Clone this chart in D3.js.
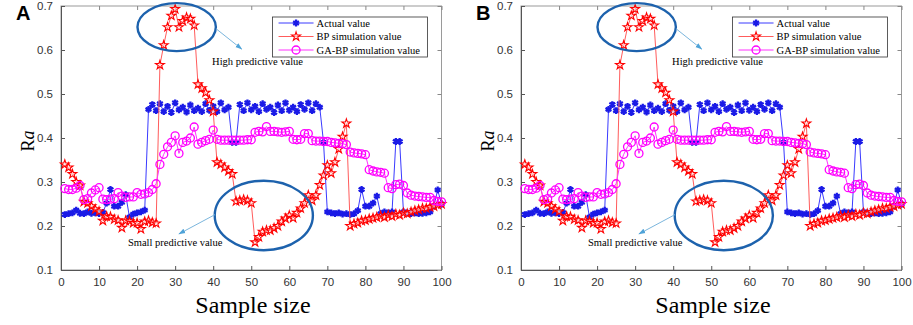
<!DOCTYPE html>
<html>
<head>
<meta charset="utf-8">
<script src="https://cdn.jsdelivr.net/npm/d3@7"></script>
<style>
  body { margin: 0; background: #fff; }
  svg { display: block; }
  .tick text { font-family: "Liberation Sans", Arial, sans-serif; font-size: 11.5px; fill: #333; }
</style>
</head>
<body>
<div id="chart"></div>
<script>
// sample numbers 1..100
var samples = d3.range(1, 101);

var actualValue = [0.226,0.228,0.230,0.236,0.229,0.228,0.232,0.229,0.230,0.228,0.231,0.252,0.283,0.245,0.245,0.254,0.271,0.220,0.227,0.230,0.232,0.236,
  0.465,0.476,0.462,0.478,0.460,0.472,0.458,0.480,0.464,0.470,0.459,0.475,0.462,0.468,0.460,0.478,0.463,0.472,0.460,0.480,0.464,0.470,
  0.390,0.390,
  0.476,0.462,0.480,0.464,0.472,0.460,0.478,0.465,0.470,0.458,0.475,0.462,0.480,0.463,0.470,0.460,0.476,0.465,0.480,0.462,0.478,0.470,
  0.390,
  0.232,0.230,0.228,0.230,0.227,0.228,0.226,0.228,0.235,0.283,0.245,0.245,0.252,0.268,0.228,0.232,0.230,0.232,0.392,0.392,0.232,0.230,0.228,0.230,0.228,0.229,0.230,0.232,0.245,0.282,0.250];

var bpValue = [0.340,0.333,0.318,0.300,0.292,0.255,0.252,0.245,0.238,0.233,0.212,0.222,0.221,0.215,0.213,0.196,0.212,0.211,0.207,0.207,0.193,0.210,0.212,0.208,0.206,
  0.566,0.611,0.652,0.678,0.693,0.652,0.666,0.674,0.671,0.656,
  0.522,0.513,0.503,0.486,0.460,
  0.345,0.340,0.333,0.325,0.318,
  0.256,0.258,0.260,0.258,0.252,
  0.163,0.175,0.187,0.190,0.190,0.195,0.200,0.210,0.217,0.224,0.218,0.230,0.240,0.252,0.270,0.258,0.270,0.293,0.315,0.338,0.320,0.345,0.375,0.403,0.433,
  0.200,0.205,0.207,0.212,0.213,0.216,0.218,0.220,0.223,0.220,0.225,0.222,0.227,0.225,0.230,0.228,0.232,0.235,0.237,0.240,0.240,0.243,0.245,0.248,0.250];

var gabpValue = [0.285,0.283,0.283,0.286,0.292,0.260,0.262,0.275,0.282,0.287,0.261,0.260,0.261,0.262,0.276,0.268,0.265,0.266,0.266,0.276,0.272,0.273,0.276,0.283,0.296,
  0.340,0.363,0.380,0.390,0.405,0.365,0.390,0.393,0.400,0.425,0.386,0.390,0.394,0.397,0.418,
  0.397,0.395,0.395,0.395,0.395,0.395,0.395,0.395,0.396,0.396,
  0.413,0.415,0.414,0.426,0.415,0.415,0.414,0.413,0.414,0.415,
  0.397,0.396,0.397,0.410,0.410,0.394,0.393,0.393,0.392,0.392,
  0.390,0.389,0.388,0.387,0.385,0.368,0.366,0.365,0.364,0.362,
  0.328,0.325,0.323,0.322,0.320,0.287,0.285,0.294,0.295,0.292,
  0.275,0.270,0.268,0.267,0.266,0.265,0.265,0.258,0.256,0.255];

var xTicks = [0,10,20,30,40,50,60,70,80,90,100];
var yTicks = [0.1,0.2,0.3,0.4,0.5,0.6,0.7];
var seriesNames = ["Actual value", "BP simulation value", "GA-BP simulation value"];
var panelLabels = ["A", "B"];

var svg = d3.select("#chart").append("svg")
    .attr("width", 913)
    .attr("height", 325);

// defs for arrowheads
svg.append("defs").append("marker")
    .attr("id", "arr")
    .attr("viewBox", "0 0 10 10")
    .attr("refX", 9).attr("refY", 5)
    .attr("markerWidth", 7).attr("markerHeight", 7)
    .attr("orient", "auto")
  .append("path")
    .attr("d", "M0,1.5L10,5L0,8.5Z")
    .attr("fill", "#4fa3d8");

var series = [
  {name: seriesNames[0], values: actualValue, line: "#3a3aff", mark: "#1a1ae6", sym: "asterisk"},
  {name: seriesNames[1], values: bpValue, line: "#ff5c5c", mark: "#ff0000", sym: "star"},
  {name: seriesNames[2], values: gabpValue, line: "#ff33ff", mark: "#ff00ff", sym: "circle"}
];

function drawMarker(sel, s) {
  if (s.sym == "asterisk") {
    sel.append("path")
      .attr("d", d3.symbol(d3.symbolAsterisk, 32)())
      .attr("fill", "none")
      .attr("stroke", s.mark)
      .attr("stroke-width", 2.3);
  } else if (s.sym == "star") {
    sel.append("path")
      .attr("d", d3.symbol(d3.symbolStar, 24)())
      .attr("fill", "#fff")
      .attr("fill-opacity", 0.5)
      .attr("stroke", s.mark)
      .attr("stroke-width", 1.1);
  } else {
    sel.append("circle")
      .attr("r", 4)
      .attr("fill", "none")
      .attr("stroke", s.mark)
      .attr("stroke-width", 1.3);
  }
}

function drawPanel(left, label) {
  var margin = {left: left, top: 6},
      width = 380.5,
      height = 264;

  var x = d3.scaleLinear().domain([0, 100]).range([0, width]);
  var y = d3.scaleLinear().domain([0.1, 0.7]).range([height, 0]);

  var g = svg.append("g")
      .attr("transform", "translate(" + margin.left + "," + margin.top + ")");

  // frame: top/right light
  g.append("rect")
      .attr("width", width).attr("height", height)
      .attr("fill", "none").attr("stroke", "#9a9a9a").attr("stroke-width", 1);

  g.append("g")
      .attr("transform", "translate(0," + height + ")")
      .call(d3.axisBottom(x).tickValues(xTicks).tickSizeInner(-4).tickSizeOuter(0).tickPadding(8))
      .call(function(a) { a.select(".domain").attr("stroke", "#555"); a.selectAll("line").attr("stroke", "#555"); });

  g.append("g")
      .call(d3.axisTop(x).tickValues(xTicks).tickSizeInner(-4).tickSizeOuter(0).tickFormat(""))
      .call(function(a) { a.select(".domain").remove(); a.selectAll("line").attr("stroke", "#888"); });

  g.append("g")
      .call(d3.axisLeft(y).tickValues(yTicks).tickSizeInner(-4).tickSizeOuter(0).tickPadding(8).tickFormat(d3.format(".1f")))
      .call(function(a) { a.select(".domain").attr("stroke", "#555"); a.selectAll("line").attr("stroke", "#555"); });

  g.append("g")
      .attr("transform", "translate(" + width + ",0)")
      .call(d3.axisRight(y).tickValues(yTicks).tickSizeInner(-4).tickSizeOuter(0).tickFormat(""))
      .call(function(a) { a.select(".domain").remove(); a.selectAll("line").attr("stroke", "#888"); });

  var line = d3.line()
      .x(function(d, i) { return x(samples[i]); })
      .y(function(d) { return y(d); });

  series.forEach(function(s) {
    g.append("path")
        .datum(s.values)
        .attr("fill", "none")
        .attr("stroke", s.line)
        .attr("stroke-width", 1)
        .attr("d", line);

    var pts = g.append("g").selectAll("g")
        .data(s.values)
      .enter().append("g")
        .attr("transform", function(d, i) { return "translate(" + x(samples[i]) + "," + y(d) + ")"; });
    drawMarker(pts, s);
  });

  // ellipses
  g.append("ellipse")
      .attr("cx", x(30.4)).attr("cy", y(0.652))
      .attr("rx", x(10.3) - x(0)).attr("ry", y(0.1) - y(0.1545))
      .attr("fill", "none").attr("stroke", "#1d62ad").attr("stroke-width", 2.4);

  g.append("ellipse")
      .attr("cx", x(53.3)).attr("cy", y(0.224))
      .attr("rx", x(12.9) - x(0)).attr("ry", y(0.1) - y(0.179))
      .attr("fill", "none").attr("stroke", "#1d62ad").attr("stroke-width", 2.4);

  // arrows
  g.append("line")
      .attr("x1", x(40.8)).attr("y1", y(0.648))
      .attr("x2", x(47.5)).attr("y2", y(0.602))
      .attr("stroke", "#7bb6dd").attr("stroke-width", 1)
      .attr("marker-end", "url(#arr)");

  g.append("line")
      .attr("x1", x(40.5)).attr("y1", y(0.226))
      .attr("x2", x(31)).attr("y2", y(0.182))
      .attr("stroke", "#7bb6dd").attr("stroke-width", 1)
      .attr("marker-end", "url(#arr)");

  g.append("text")
      .attr("x", x(39.7)).attr("y", y(0.566))
      .style("font-family", "'Liberation Serif', 'Times New Roman', serif")
      .style("font-size", "10.5px")
      .text("High predictive value");

  g.append("text")
      .attr("x", x(17.6)).attr("y", y(0.154))
      .style("font-family", "'Liberation Serif', 'Times New Roman', serif")
      .style("font-size", "10.5px")
      .text("Small predictive value");

  // legend
  var lg = g.append("g").attr("transform", "translate(" + (x(55.6)) + ",11)");
  lg.append("rect")
      .attr("width", 155).attr("height", 40)
      .attr("fill", "#fff").attr("stroke", "#333").attr("stroke-width", 0.8);

  series.forEach(function(s, i) {
    var row = lg.append("g").attr("transform", "translate(0," + (6 + i * 13.5) + ")");
    row.append("line")
        .attr("x1", 6).attr("x2", 41)
        .attr("stroke", s.line).attr("stroke-width", 1);
    drawMarker(row.append("g").attr("transform", "translate(23.5,0)"), s);
    row.append("text")
        .attr("x", 44).attr("dy", "0.35em")
        .style("font-family", "'Liberation Serif', 'Times New Roman', serif")
        .style("font-size", "10.5px")
        .text(s.name);
  });

  // axis titles
  svg.append("text")
      .attr("transform", "translate(" + (left - 27) + "," + 141 + ") rotate(-90)")
      .attr("text-anchor", "middle")
      .style("font-family", "'Liberation Serif', 'Times New Roman', serif")
      .style("font-size", "18px")
      .html("R<tspan font-style='italic'>a</tspan>");

  svg.append("text")
      .attr("x", left + 192).attr("y", 313)
      .attr("text-anchor", "middle")
      .style("font-family", "'Liberation Serif', 'Times New Roman', serif")
      .style("font-size", "24px")
      .text("Sample size");

  svg.append("text")
      .attr("x", left - 45).attr("y", 20)
      .style("font-family", "'Liberation Sans', Arial, sans-serif")
      .style("font-weight", "bold")
      .style("font-size", "20px")
      .text(label);
}

drawPanel(61, panelLabels[0]);
drawPanel(521, panelLabels[1]);
</script>
</body>
</html>
